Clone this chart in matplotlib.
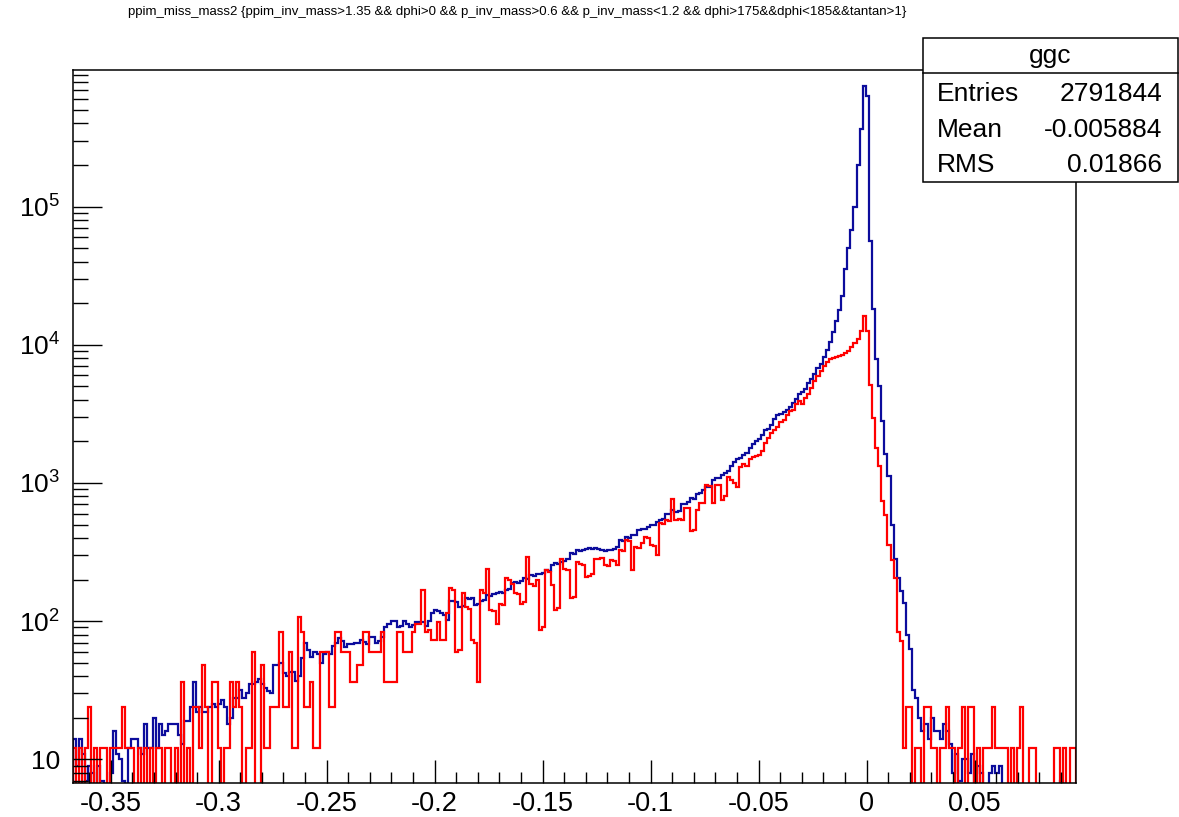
import numpy as np
import matplotlib
matplotlib.use("Agg")
import matplotlib.pyplot as plt
from matplotlib.patches import Rectangle
from matplotlib.ticker import FixedLocator, FixedFormatter, MultipleLocator

plt.rcParams['font.family'] = ['Liberation Sans', 'DejaVu Sans']
plt.rcParams['mathtext.fontset'] = 'custom'
plt.rcParams['mathtext.rm'] = 'Liberation Sans'
plt.rcParams['mathtext.it'] = 'Liberation Sans'
plt.rcParams['axes.unicode_minus'] = False

# ---------------- data ----------------
title = ("ppim_miss_mass2 {ppim_inv_mass>1.35 && dphi>0 && p_inv_mass>0.6 && "
         "p_inv_mass<1.2 && dphi>175&&dphi<185&&tantan>1}")
x_min, x_max, n_bins = -0.3676, 0.0968, 325

blue_counts = [
    14, 9, 14, 11, 7, 9, 8, 0, 9, 7,
    0, 0, 8, 16, 11, 10, 7, 0, 12, 14,
    14, 12, 11, 18, 12, 12, 20, 12, 18, 15,
    16, 18, 18, 18, 15, 13, 19, 19, 24, 36,
    22, 24, 22, 22, 24, 25, 24, 25, 27, 24,
    18, 20, 28, 28, 32, 28, 30, 35, 35, 36,
    38, 35, 33, 31, 30, 48, 48, 50, 42, 40,
    43, 43, 37, 40, 54, 70, 62, 55, 60, 58,
    50, 58, 60, 58, 66, 69, 75, 72, 65, 68,
    68, 70, 70, 73, 71, 68, 77, 77, 70, 72,
    77, 90, 95, 100, 100, 90, 92, 100, 96, 90,
    94, 98, 99, 99, 93, 100, 114, 120, 118, 114,
    110, 102, 141, 139, 138, 126, 128, 146, 144, 148,
    131, 133, 141, 143, 155, 152, 157, 159, 163, 161,
    167, 170, 188, 192, 190, 194, 205, 203, 215, 212,
    218, 221, 224, 234, 231, 254, 262, 258, 269, 272,
    284, 309, 305, 327, 324, 330, 335, 338, 332, 336,
    334, 327, 322, 329, 325, 331, 345, 385, 380, 405,
    402, 418, 421, 454, 468, 464, 480, 494, 498, 524,
    540, 545, 600, 596, 635, 620, 626, 710, 705, 730,
    775, 770, 835, 840, 890, 935, 940, 1050, 1080, 1090,
    1150, 1175, 1230, 1320, 1410, 1480, 1510, 1585, 1660, 1780,
    1900, 2000, 2090, 2240, 2400, 2450, 2630, 2880, 3090, 3160,
    3240, 3390, 3550, 3800, 4070, 4370, 4570, 4790, 5250, 5620,
    6170, 6760, 7240, 8130, 9120, 10470, 12300, 14800, 17800, 22400,
    35500, 50100, 67600, 100000, 199500, 363000, 741000, 631000, 56200, 18200,
    7940, 5010, 2820, 1620, 1120, 500, 282, 204, 166, 135,
    79, 63, 32, 28, 20, 16, 18, 14, 20, 16,
    16, 14, 18, 16, 13, 8, 11, 7, 10, 10,
    8, 11, 0, 9, 8, 0, 0, 8, 9, 8,
    9, 0, 0, 0, 0, 0, 0, 0, 0, 0,
    0, 0, 0, 0, 0, 0, 0, 0, 0, 0,
    7, 0, 0, 0, 0,
]

red_counts = [
    12, 0, 12, 0, 12, 24, 0, 12, 0, 12,
    12, 0, 12, 12, 12, 12, 24, 12, 12, 12,
    0, 12, 0, 12, 0, 12, 0, 12, 12, 0,
    12, 12, 0, 12, 0, 36, 0, 12, 0, 24,
    24, 12, 48, 24, 0, 36, 36, 12, 0, 12,
    12, 36, 24, 36, 24, 0, 12, 12, 60, 0,
    0, 48, 12, 12, 24, 24, 24, 84, 24, 24,
    60, 12, 12, 108, 84, 24, 24, 36, 12, 12,
    60, 60, 60, 24, 24, 84, 84, 60, 60, 60,
    36, 36, 48, 48, 84, 84, 60, 60, 60, 60,
    84, 36, 36, 36, 36, 84, 84, 60, 60, 60,
    84, 96, 96, 168, 84, 86, 73, 73, 98, 73,
    73, 114, 175, 168, 60, 62, 160, 127, 122, 73,
    70, 36, 167, 160, 240, 120, 118, 96, 134, 130,
    204, 198, 187, 160, 156, 134, 138, 290, 187, 180,
    198, 86, 90, 233, 228, 182, 120, 124, 283, 240,
    236, 146, 150, 267, 260, 256, 208, 212, 220, 283,
    280, 286, 255, 250, 276, 272, 255, 325, 320, 385,
    380, 233, 343, 338, 365, 405, 400, 355, 350, 300,
    510, 505, 540, 535, 770, 540, 545, 538, 660, 655,
    450, 455, 635, 720, 715, 960, 955, 720, 960, 965,
    750, 800, 1100, 1050, 1000, 930, 1300, 1380, 1320, 1480,
    1540, 1560, 1600, 1700, 1950, 2100, 2300, 2420, 2550, 2750,
    2850, 3100, 3300, 3400, 3750, 3900, 3700, 4100, 4400, 4900,
    5500, 5900, 6500, 7000, 7500, 7900, 8050, 8200, 8300, 8450,
    8700, 9000, 9700, 10300, 11000, 12500, 16200, 12600, 5100, 2950,
    1780, 1320, 740, 590, 355, 275, 204, 84, 72, 12,
    24, 24, 0, 12, 12, 0, 24, 24, 12, 12,
    0, 12, 12, 24, 12, 12, 0, 12, 24, 0,
    24, 24, 0, 12, 0, 12, 12, 12, 24, 12,
    12, 12, 12, 0, 12, 0, 12, 24, 0, 0,
    12, 12, 0, 0, 0, 0, 0, 0, 12, 12,
    0, 12, 0, 12, 12,
]

x_ticks = [-0.35, -0.3, -0.25, -0.2, -0.15, -0.1, -0.05, 0.0, 0.05]
x_tick_labels = ["-0.35", "-0.3", "-0.25", "-0.2", "-0.15", "-0.1", "-0.05", "0", "0.05"]
y_ticks = [10, 100, 1000, 10000, 100000]
y_tick_labels = ["10", r"$10^{2}$", r"$10^{3}$", r"$10^{4}$", r"$10^{5}$"]

stats_name = "ggc"
stats_rows = [("Entries", "2791844"), ("Mean", "-0.005884"), ("RMS", "0.01866")]

# ---------------- figure ----------------
W, H = 1179, 817
fig = plt.figure(figsize=(W / 100, H / 100), dpi=100)
ax = fig.add_axes([72.7 / W, 1 - 782.7 / H, (1075.7 - 72.7) / W, (782.7 - 70) / H])

edges = np.linspace(x_min, x_max, n_bins + 1)
blue = np.asarray(blue_counts, dtype=float)
red = np.asarray(red_counts, dtype=float)
floor = 0.1
blue_p = np.where(blue > 0, blue, floor)
red_p = np.where(red > 0, red, floor)

ax.stairs(blue_p, edges, baseline=floor, color="#0c0c9c", lw=1.6)
ax.stairs(red_p, edges, baseline=floor, color="#ff0000", lw=1.6)

ax.set_yscale("log")
ax.set_xlim(x_min, x_max)
ax.set_ylim(6.78, 9.73e5)

ax.xaxis.set_major_locator(FixedLocator(x_ticks))
ax.xaxis.set_major_formatter(FixedFormatter(x_tick_labels))
ax.xaxis.set_minor_locator(MultipleLocator(0.01))
ax.yaxis.set_major_locator(FixedLocator(y_ticks))
ax.yaxis.set_major_formatter(FixedFormatter(y_tick_labels))
minor_y = [m * 10.0 ** e for e in range(0, 6) for m in range(2, 10)]
ax.yaxis.set_minor_locator(FixedLocator(minor_y))
ax.yaxis.set_minor_formatter(FixedFormatter([""] * len(minor_y)))

ax.tick_params(axis="x", which="major", direction="in", length=16.3, width=1.0,
               labelsize=19.5, pad=6, top=False)
ax.tick_params(axis="x", which="minor", direction="in", length=8, width=1.0, top=False)
ax.tick_params(axis="y", which="major", direction="in", length=21, width=1.0,
               labelsize=19, pad=9, right=False)
ax.tick_params(axis="y", which="minor", direction="in", length=10.6, width=1.0, right=False)
for s in ax.spines.values():
    s.set_linewidth(1.1)

# title
fig.text(517 / W, 1 - 12.5 / H, title, ha="center", va="center", fontsize=9.5)

# stats box
bx0, bx1 = 923.3 / W, 1177.5 / W
by0, by1 = 1 - 181.7 / H, 1 - 38.3 / H
fig.patches.append(Rectangle((bx0, by0), bx1 - bx0, by1 - by0, transform=fig.transFigure,
                             facecolor="white", edgecolor="black", lw=1.1, zorder=5))
fig.add_artist(plt.Line2D([bx0, bx1], [1 - 73.3 / H] * 2, transform=fig.transFigure,
                          color="black", lw=1.1, zorder=6))
fig.text(1050 / W, 1 - 56.5 / H, stats_name, ha="center", va="center", fontsize=19, zorder=7)
row_y = [94, 130, 164.5]
for (lab, val), yy in zip(stats_rows, row_y):
    fig.text(936.5 / W, 1 - yy / H, lab, ha="left", va="center", fontsize=19, zorder=7)
    fig.text(1162 / W, 1 - yy / H, val, ha="right", va="center", fontsize=19, zorder=7)

fig.savefig("out.png", dpi=100)
